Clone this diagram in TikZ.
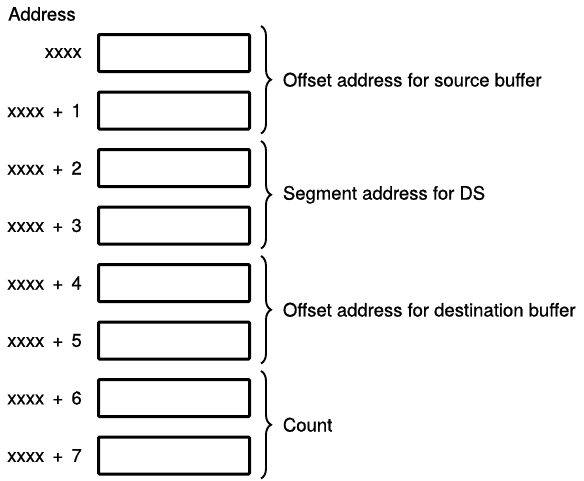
\documentclass[tikz,border=0pt]{standalone}
\usepackage{fontspec}
\setmainfont{TeX Gyre Heros}
\newfontfamily\printfont{TeX Gyre Heros}[FakeBold=0.7]
\usetikzlibrary{positioning,decorations.pathreplacing}

\begin{document}
\begin{tikzpicture}[
node distance=17.5pt and 15pt,
cell/.style={draw, line width=3pt, rounded corners=1pt, minimum width=151pt, minimum height=37pt, inner sep=0pt},
addr/.style={font=\printfont\fontsize{18.5}{22}\selectfont, inner sep=0pt},
note/.style={font=\printfont\fontsize{18.5}{22}\selectfont, anchor=west, inner sep=0pt},
brace/.style={decorate, decoration={brace, amplitude=10pt}, line width=1.9pt}
]
\useasboundingbox (0,0) rectangle (584pt,-480pt);

\node[note] (head) at (8pt,-14pt) {Address};

\node[cell] (c0) at (174pt,-53pt) {};
\node[cell, below=of c0] (c1) {};
\node[cell, below=of c1] (c2) {};
\node[cell, below=of c2] (c3) {};
\node[cell, below=of c3] (c4) {};
\node[cell, below=of c4] (c5) {};
\node[cell, below=of c5] (c6) {};
\node[cell, below=of c6] (c7) {};

\node[addr, left=of c0] (a0) {xxxx};
\node[addr, left=of c1] (a1) {xxxx \,+\, 1};
\node[addr, left=of c2] (a2) {xxxx \,+\, 2};
\node[addr, left=of c3] (a3) {xxxx \,+\, 3};
\node[addr, left=of c4] (a4) {xxxx \,+\, 4};
\node[addr, left=of c5] (a5) {xxxx \,+\, 5};
\node[addr, left=of c6] (a6) {xxxx \,+\, 6};
\node[addr, left=of c7] (a7) {xxxx \,+\, 7};

\draw[brace] ([xshift=10pt, yshift=7pt]c0.north east) -- ([xshift=10pt, yshift=-3pt]c1.south east)
  node[note, midway, right=21pt] (t0) {Offset address for source buffer};
\draw[brace] ([xshift=10pt, yshift=7pt]c2.north east) -- ([xshift=10pt, yshift=-3pt]c3.south east)
  node[note, midway, right=21pt] (t1) {Segment address for DS};
\draw[brace] ([xshift=10pt, yshift=7pt]c4.north east) -- ([xshift=10pt, yshift=-3pt]c5.south east)
  node[note, midway, right=21pt] (t2) {Offset address for destination buffer};
\draw[brace] ([xshift=10pt, yshift=7pt]c6.north east) -- ([xshift=10pt, yshift=-3pt]c7.south east)
  node[note, midway, right=21pt] (t3) {Count};
\end{tikzpicture}
\end{document}
